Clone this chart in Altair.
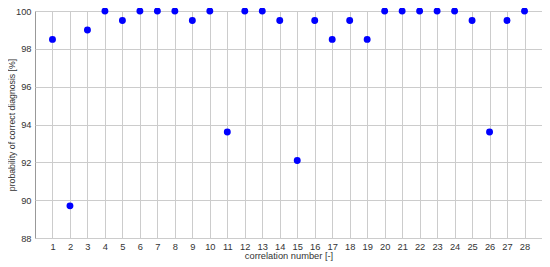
import altair as alt
import pandas as pd

correlation = list(range(1, 29))
probability = [98.5, 89.7, 99.0, 100, 99.5, 100, 100, 100, 99.5, 100,
               93.6, 100, 100, 99.5, 92.1, 99.5, 98.5, 99.5, 98.5, 100,
               100, 100, 100, 100, 99.5, 93.6, 99.5, 100]
y_ticks = [88, 90, 92, 94, 96, 98, 100]

df = pd.DataFrame({"correlation": correlation, "probability": probability})

font = "Liberation Sans"

chart = alt.Chart(df).mark_circle(size=48, color="#0000ff", opacity=1).encode(
    x=alt.X("correlation:Q",
            scale=alt.Scale(domain=[0, 29], nice=False, zero=False),
            axis=alt.Axis(values=correlation, title="correlation number [-]",
                          tickSize=0, labelPadding=4, titlePadding=0,
                          domain=False, labelFont=font, titleFont=font,
                          labelFontSize=9.3, titleFontSize=9.3,
                          labelColor="#333333", titleColor="#333333",
                          titleFontWeight="normal",
                          gridColor="#cccccc", gridOpacity=1)),
    y=alt.Y("probability:Q",
            scale=alt.Scale(domain=[88, 100], nice=False, zero=False),
            axis=alt.Axis(values=y_ticks, title="probability of correct diagnosis [%]",
                          tickSize=0, labelPadding=4,
                          titleX=-20.5, titleBaseline="alphabetic",
                          domain=False, labelFont=font, titleFont=font,
                          labelFontSize=9.3, titleFontSize=8.7,
                          labelColor="#333333", titleColor="#333333",
                          titleFontWeight="normal",
                          gridColor="#cccccc", gridOpacity=1)),
).properties(
    width=507, height=227,
    autosize=alt.AutoSizeParams(type="none"),
    padding={"left": 27, "top": 3, "right": 0, "bottom": 29},
).configure_view(stroke="#999999", strokeWidth=1)

chart.save("out.html", embed_options={"renderer": "svg", "actions": False})
